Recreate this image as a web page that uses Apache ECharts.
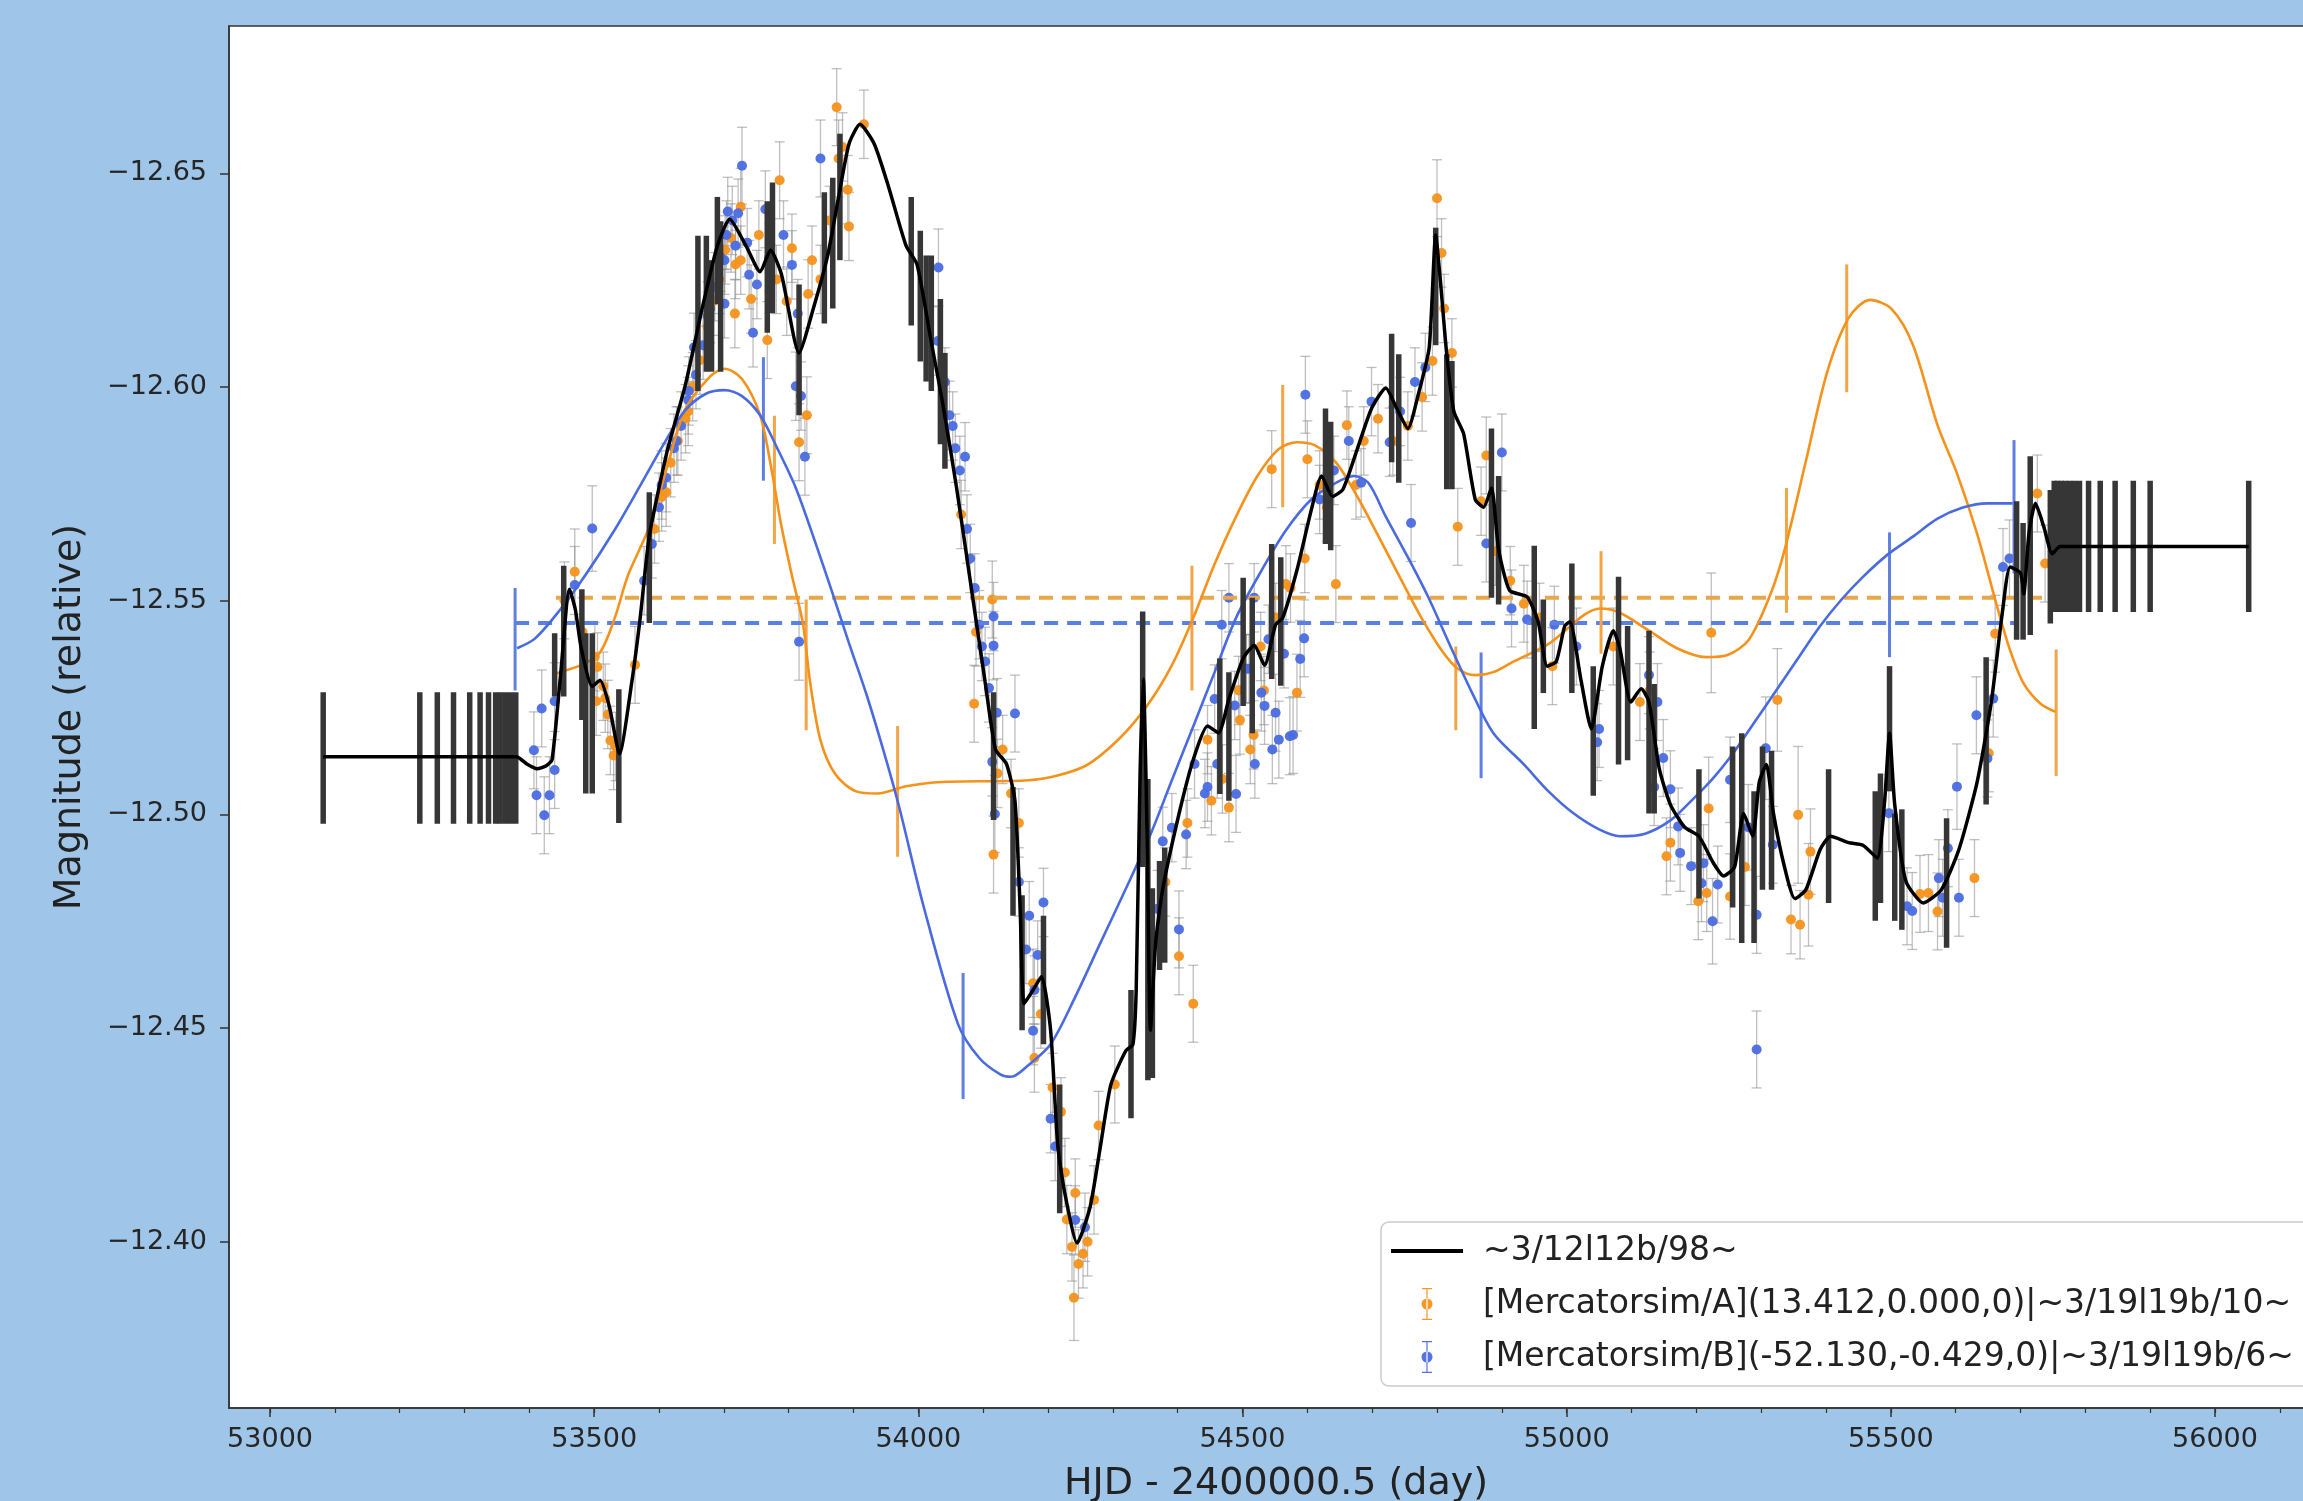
<!DOCTYPE html>
<html>
<head>
<meta charset="utf-8">
<script src="https://cdn.jsdelivr.net/npm/echarts@6/dist/echarts.min.js"></script>
<style>
  html, body { margin: 0; padding: 0; background: #9fc5e8; }
  #main { width: 2303px; height: 1501px; }
</style>
</head>
<body>
<div id="main"></div>
<script>
// tick labels
const xMajor = [53000, 53500, 54000, 54500, 55000, 55500, 56000];
const xMinor = [53000, 53100, 53200, 53300, 53400, 53500, 53600, 53700, 53800, 53900, 54000, 54100, 54200, 54300, 54400,
  54500, 54600, 54700, 54800, 54900, 55000, 55100, 55200, 55300, 55400, 55500, 55600, 55700, 55800, 55900, 56000, 56100];
const yTicks = [-12.65, -12.60, -12.55, -12.50, -12.45, -12.40];

// legend names
const nameBlack = "~3/12l12b/98~";
const nameA = "[Mercatorsim/A](13.412,0.000,0)|~3/19l19b/10~";
const nameB = "[Mercatorsim/B](-52.130,-0.429,0)|~3/19l19b/6~";

// black model curve [HJD, mag]
const blackLine = [
  [53082, -12.5135], [53380, -12.5135], [53396, -12.5118], [53412, -12.5107], [53426, -12.5114], [53435, -12.5128],
  [53448, -12.5324], [53462, -12.5527], [53471, -12.5479], [53480, -12.5389], [53497, -12.5300], [53509, -12.5314],
  [53523, -12.5255], [53539, -12.5142], [53558, -12.5310], [53571, -12.5461], [53585, -12.5651], [53613, -12.5853],
  [53640, -12.6001], [53668, -12.6194], [53690, -12.6331], [53709, -12.6393], [53734, -12.6331], [53756, -12.6270],
  [53772, -12.6321], [53789, -12.6263], [53816, -12.6080], [53838, -12.6184], [53860, -12.6307], [53877, -12.6445],
  [53893, -12.6569], [53910, -12.6615], [53932, -12.6569], [53954, -12.6469], [53981, -12.6331], [53998, -12.6287],
  [54020, -12.6105], [54037, -12.5967], [54059, -12.5764], [54081, -12.5537], [54103, -12.5310], [54119, -12.5152],
  [54136, -12.5118], [54149, -12.5032], [54157, -12.4781], [54163, -12.4557], [54177, -12.4589], [54190, -12.4621],
  [54204, -12.4495], [54215, -12.4225], [54226, -12.4113], [54245, -12.3997], [54265, -12.4082], [54281, -12.4225],
  [54297, -12.4368], [54320, -12.4447], [54331, -12.4462], [54336, -12.4589], [54342, -12.5096], [54347, -12.5317],
  [54353, -12.4939], [54358, -12.4495], [54366, -12.4700], [54377, -12.4826], [54402, -12.5001], [54424, -12.5128],
  [54446, -12.5207], [54463, -12.5191], [54479, -12.5270], [54501, -12.5365], [54518, -12.5396], [54534, -12.5349],
  [54551, -12.5444], [54562, -12.5460], [54584, -12.5572], [54606, -12.5712], [54622, -12.5792], [54639, -12.5744],
  [54655, -12.5761], [54677, -12.5855], [54699, -12.5950], [54721, -12.5998], [54738, -12.5950], [54755, -12.5903],
  [54771, -12.5982], [54788, -12.6093], [54798, -12.6356], [54805, -12.6252], [54815, -12.6077], [54826, -12.5943],
  [54841, -12.5891], [54859, -12.5737], [54872, -12.5719], [54884, -12.5764], [54895, -12.5620], [54912, -12.5524],
  [54939, -12.5509], [54956, -12.5451], [54970, -12.5347], [54984, -12.5358], [54997, -12.5441], [55005, -12.5451],
  [55022, -12.5315], [55038, -12.5200], [55055, -12.5347], [55072, -12.5430], [55082, -12.5389], [55099, -12.5263],
  [55115, -12.5294], [55127, -12.5263], [55143, -12.5106], [55160, -12.5023], [55182, -12.4970], [55204, -12.4949],
  [55226, -12.4887], [55242, -12.4856], [55259, -12.4877], [55273, -12.5002], [55287, -12.4949], [55297, -12.5075],
  [55308, -12.5117], [55319, -12.5002], [55336, -12.4877], [55352, -12.4803], [55369, -12.4824], [55391, -12.4918],
  [55407, -12.4949], [55435, -12.4934], [55457, -12.4928], [55479, -12.4898], [55490, -12.5023], [55498, -12.5190],
  [55506, -12.5023], [55523, -12.4845], [55550, -12.4793], [55578, -12.4824], [55605, -12.4918], [55633, -12.5075],
  [55655, -12.5263], [55672, -12.5472], [55684, -12.5579], [55700, -12.5565], [55705, -12.5516], [55713, -12.5657],
  [55723, -12.5728], [55736, -12.5673], [55749, -12.5610], [55761, -12.5627], [56052, -12.5627]
];

// black model error bars [HJD, low, high]
const blackBars = [
  [53082, -12.5286, -12.4978], [53231, -12.5286, -12.4978], [53258, -12.5286, -12.4978], [53283, -12.5286, -12.4978],
  [53308, -12.5286, -12.4978], [53324, -12.5286, -12.4978], [53337, -12.5286, -12.4978], [53348, -12.5286, -12.4978],
  [53355, -12.5286, -12.4978], [53363, -12.5286, -12.4978], [53371, -12.5286, -12.4978], [53379, -12.5286, -12.4978],
  [53439, -12.5424, -12.5276], [53453, -12.5582, -12.5276], [53481, -12.5527, -12.5221], [53487, -12.5424, -12.5049],
  [53497, -12.5424, -12.5049], [53538, -12.5293, -12.4980], [53585, -12.5754, -12.5448], [53660, -12.6354, -12.5991],
  [53673, -12.6354, -12.6036], [53681, -12.6297, -12.6036], [53690, -12.6445, -12.6194], [53695, -12.6388, -12.6036],
  [53767, -12.6435, -12.6127], [53775, -12.6479, -12.6173], [53816, -12.6240, -12.5934], [53855, -12.6456, -12.6149],
  [53868, -12.6490, -12.6184], [53879, -12.6593, -12.6297], [53989, -12.6445, -12.6144], [54003, -12.6366, -12.6060],
  [54012, -12.6308, -12.6013], [54020, -12.6308, -12.5991], [54034, -12.6206, -12.5866], [54041, -12.6080, -12.5809],
  [54116, -12.5286, -12.4987], [54146, -12.5064, -12.4763], [54160, -12.4811, -12.4495], [54193, -12.4763, -12.4462],
  [54218, -12.4368, -12.4067], [54328, -12.4589, -12.4289], [54346, -12.5475, -12.4877], [54354, -12.5083, -12.4378],
  [54361, -12.4827, -12.4383], [54372, -12.4891, -12.4636], [54380, -12.4922, -12.4653], [54465, -12.5365, -12.5048],
  [54479, -12.5333, -12.5032], [54501, -12.5554, -12.5254], [54515, -12.5507, -12.5190], [54545, -12.5633, -12.5317],
  [54559, -12.5602, -12.5301], [54628, -12.5950, -12.5633], [54636, -12.5919, -12.5618], [54730, -12.6125, -12.5824],
  [54741, -12.6077, -12.5776], [54798, -12.6373, -12.6098], [54815, -12.6077, -12.5761], [54823, -12.6061, -12.5761],
  [54884, -12.5903, -12.5507], [54895, -12.5792, -12.5491], [54950, -12.5629, -12.5200], [54964, -12.5503, -12.5284],
  [55008, -12.5587, -12.5284], [55041, -12.5347, -12.5044], [55080, -12.5556, -12.5117], [55094, -12.5441, -12.5127],
  [55127, -12.5430, -12.5002], [55135, -12.5305, -12.5002], [55204, -12.5106, -12.4803], [55256, -12.5159, -12.4782],
  [55270, -12.5190, -12.4699], [55289, -12.5054, -12.4699], [55302, -12.5159, -12.4824], [55316, -12.5149, -12.4824],
  [55404, -12.5106, -12.4793], [55476, -12.5054, -12.4751], [55484, -12.5096, -12.4793], [55498, -12.5347, -12.5054],
  [55506, -12.5002, -12.4751], [55517, -12.5012, -12.4730], [55586, -12.4991, -12.4688], [55647, -12.5368, -12.5023],
  [55694, -12.5733, -12.5409], [55704, -12.5682, -12.5409], [55715, -12.5838, -12.5420], [55746, -12.5759, -12.5447],
  [55752, -12.5781, -12.5474], [55757, -12.5781, -12.5474], [55763, -12.5781, -12.5474], [55769, -12.5781, -12.5474],
  [55776, -12.5781, -12.5474], [55783, -12.5781, -12.5474], [55791, -12.5781, -12.5474], [55805, -12.5781, -12.5474],
  [55823, -12.5781, -12.5474], [55846, -12.5781, -12.5474], [55874, -12.5781, -12.5474], [55900, -12.5781, -12.5474],
  [56052, -12.5781, -12.5474]
];

// orange model (A)
const orangeCurve = [
  [53441, -12.5330], [53482, -12.5351], [53509, -12.5379], [53532, -12.5461], [53552, -12.5559], [53585, -12.5673],
  [53611, -12.5805], [53640, -12.5946], [53679, -12.6025], [53701, -12.6043], [53728, -12.6019], [53756, -12.5934],
  [53772, -12.5820], [53789, -12.5673], [53805, -12.5559], [53822, -12.5446], [53833, -12.5310], [53849, -12.5174],
  [53872, -12.5094], [53904, -12.5054], [53937, -12.5049], [53981, -12.5066], [54036, -12.5076], [54170, -12.5080],
  [54254, -12.5111], [54309, -12.5176], [54353, -12.5255], [54391, -12.5349], [54424, -12.5460], [54457, -12.5586],
  [54490, -12.5697], [54523, -12.5792], [54556, -12.5855], [54584, -12.5871], [54611, -12.5864], [54644, -12.5824],
  [54677, -12.5744], [54710, -12.5650], [54743, -12.5554], [54776, -12.5460], [54809, -12.5380], [54832, -12.5341],
  [54859, -12.5326], [54887, -12.5333], [54917, -12.5357], [54972, -12.5399], [55027, -12.5467], [55052, -12.5482],
  [55082, -12.5472], [55127, -12.5430], [55170, -12.5389], [55215, -12.5368], [55248, -12.5373], [55281, -12.5409],
  [55314, -12.5514], [55336, -12.5618], [55369, -12.5827], [55402, -12.6036], [55435, -12.6162], [55468, -12.6204],
  [55501, -12.6183], [55534, -12.6099], [55572, -12.5911], [55602, -12.5798], [55633, -12.5657], [55664, -12.5486],
  [55684, -12.5384], [55705, -12.5306], [55731, -12.5259], [55754, -12.5240]
];
const orangeBars = [
  [53778, -12.5933, -12.5633], [53827, -12.5503, -12.5197], [53968, -12.5207, -12.4901], [54422, -12.5582, -12.5290],
  [54562, -12.6005, -12.5719], [54829, -12.5393, -12.5197], [55053, -12.5616, -12.5376], [55339, -12.5764, -12.5472],
  [55432, -12.6287, -12.5988], [55755, -12.5386, -12.5090]
];

// blue model (B)
const blueCurve = [
  [53381, -12.5389], [53409, -12.5412], [53448, -12.5480], [53486, -12.5559], [53530, -12.5662], [53569, -12.5764],
  [53607, -12.5866], [53640, -12.5945], [53673, -12.5985], [53701, -12.5993], [53728, -12.5979], [53756, -12.5934],
  [53783, -12.5855], [53811, -12.5764], [53838, -12.5650], [53866, -12.5525], [53893, -12.5401], [53921, -12.5276],
  [53948, -12.5140], [53971, -12.5014], [54007, -12.4791], [54061, -12.4510], [54094, -12.4430], [54127, -12.4391],
  [54143, -12.4386], [54171, -12.4415], [54204, -12.4462], [54242, -12.4573], [54281, -12.4700], [54320, -12.4826],
  [54358, -12.4953], [54391, -12.5080], [54424, -12.5206], [54457, -12.5333], [54490, -12.5460], [54529, -12.5570],
  [54567, -12.5665], [54606, -12.5737], [54644, -12.5776], [54672, -12.5792], [54694, -12.5776], [54721, -12.5697],
  [54755, -12.5602], [54787, -12.5507], [54820, -12.5396], [54854, -12.5285], [54887, -12.5190], [54934, -12.5117],
  [54972, -12.5054], [55011, -12.5002], [55050, -12.4965], [55082, -12.4949], [55121, -12.4955], [55160, -12.4986],
  [55193, -12.5033], [55226, -12.5085], [55259, -12.5148], [55292, -12.5221], [55325, -12.5294], [55358, -12.5368],
  [55391, -12.5441], [55424, -12.5503], [55457, -12.5556], [55495, -12.5608], [55534, -12.5650], [55572, -12.5692],
  [55611, -12.5718], [55649, -12.5728], [55688, -12.5728]
];
const blueBars = [
  [53378, -12.5530, -12.5290], [53761, -12.6070, -12.5781], [54069, -12.4629, -12.4334], [54868, -12.5379, -12.5085],
  [55498, -12.5660, -12.5368], [55690, -12.5876, -12.5564]
];

// mean levels
const orangeMean = [[53441, -12.5507], [55755, -12.5507]];
const blueMean = [[53378, -12.5448], [55690, -12.5448]];

// observations A [HJD, mag, err]
const obsA = [
  [53470, -12.5568, 0.010], [53454, -12.5501, 0.009], [53482, -12.5427, 0.008], [53501, -12.5369, 0.008], [53505, -12.5345, 0.008],
  [53514, -12.5300, 0.008], [53517, -12.5272, 0.008], [53521, -12.5234, 0.008], [53525, -12.5173, 0.008], [53530, -12.5138, 0.008],
  [53533, -12.5159, 0.008], [53503, -12.5265, 0.008], [53563, -12.5350, 0.009],
  [53593, -12.5668, 0.008], [53604, -12.5743, 0.008], [53618, -12.5823, 0.008], [53629, -12.5874, 0.008], [53641, -12.5926, 0.008],
  [53652, -12.6001, 0.008], [53663, -12.6063, 0.008], [53675, -12.6142, 0.008], [53684, -12.6201, 0.008], [53693, -12.6252, 0.008],
  [53702, -12.6321, 0.008], [53711, -12.6349, 0.008], [53718, -12.6287, 0.008], [53611, -12.5754, 0.008], [53645, -12.5943, 0.008],
  [53726, -12.6422, 0.009], [53726, -12.6297, 0.008], [53742, -12.6206, 0.008], [53717, -12.6172, 0.008], [53767, -12.6110, 0.009],
  [53786, -12.6484, 0.009], [53805, -12.6325, 0.008], [53836, -12.6297, 0.008], [53830, -12.6218, 0.008], [53828, -12.5934, 0.009],
  [53816, -12.5871, 0.009], [53874, -12.6655, 0.009], [53877, -12.6535, 0.009], [53891, -12.6462, 0.008], [53893, -12.6376, 0.008],
  [53916, -12.6615, 0.008], [53754, -12.6356, 0.008], [53781, -12.6252, 0.008], [53797, -12.6201, 0.008], [53849, -12.6252, 0.008],
  [53863, -12.6390, 0.008], [53883, -12.6562, 0.008],
  [54114, -12.5503, 0.009], [54086, -12.5259, 0.009], [54130, -12.5152, 0.008], [54116, -12.4906, 0.009], [54122, -12.5096, 0.008],
  [54066, -12.5702, 0.008], [54089, -12.5427, 0.008],
  [54177, -12.4605, 0.008], [54179, -12.4430, 0.008], [54220, -12.4304, 0.008], [54226, -12.4162, 0.008], [54242, -12.4114, 0.008],
  [54237, -12.3988, 0.008], [54254, -12.3972, 0.008], [54271, -12.4098, 0.008], [54278, -12.4272, 0.008], [54303, -12.4368, 0.009],
  [54240, -12.3869, 0.010], [54247, -12.3948, 0.008], [54261, -12.4000, 0.008], [54229, -12.4052, 0.008], [54143, -12.5049, 0.008],
  [54155, -12.4980, 0.008], [54189, -12.4533, 0.008], [54207, -12.4361, 0.008],
  [54402, -12.4668, 0.009], [54424, -12.4557, 0.009], [54452, -12.5032, 0.008], [54479, -12.5016, 0.008], [54446, -12.5175, 0.008],
  [54545, -12.5808, 0.009], [54567, -12.5539, 0.009], [54584, -12.5285, 0.009], [54381, -12.4842, 0.008], [54415, -12.4980, 0.008],
  [54494, -12.5290, 0.008], [54506, -12.5341, 0.008], [54528, -12.5393, 0.008], [54551, -12.5461, 0.008], [54574, -12.5530, 0.008],
  [54596, -12.5599, 0.008], [54517, -12.5186, 0.008], [54469, -12.5083, 0.008], [54496, -12.5221, 0.008], [54512, -12.5152, 0.008],
  [54533, -12.5290, 0.008],
  [54600, -12.5831, 0.009], [54644, -12.5539, 0.009], [54661, -12.5911, 0.008], [54619, -12.5771, 0.008], [54630, -12.5719, 0.008],
  [54675, -12.5771, 0.008], [54687, -12.5874, 0.008], [54709, -12.5926, 0.008], [54732, -12.5874, 0.008], [54755, -12.5909, 0.008],
  [54777, -12.5977, 0.008], [54793, -12.6061, 0.008], [54800, -12.6442, 0.009], [54807, -12.6314, 0.008], [54811, -12.6184, 0.008],
  [54823, -12.6080, 0.008], [54832, -12.5673, 0.009], [54876, -12.5840, 0.009], [54868, -12.5733, 0.008],
  [54934, -12.5493, 0.009], [54978, -12.5347, 0.009], [54890, -12.5616, 0.008], [54913, -12.5547, 0.008], [54958, -12.5461, 0.008],
  [55113, -12.5263, 0.009], [55223, -12.5425, 0.014], [55072, -12.5393, 0.009], [55128, -12.5290, 0.009],
  [55160, -12.4934, 0.009], [55154, -12.4902, 0.009], [55219, -12.5014, 0.012], [55216, -12.4816, 0.009], [55203, -12.4797, 0.009],
  [55252, -12.4808, 0.010], [55325, -12.5268, 0.012], [55357, -12.4999, 0.016], [55376, -12.4913, 0.010], [55373, -12.4812, 0.012],
  [55346, -12.4754, 0.008], [55360, -12.4742, 0.008], [55275, -12.4877, 0.009],
  [55558, -12.4816, 0.009], [55572, -12.4773, 0.009], [55545, -12.4814, 0.009], [55629, -12.4851, 0.009], [55651, -12.5143, 0.009],
  [55661, -12.5423, 0.009], [55726, -12.5751, 0.009], [55738, -12.5587, 0.009]
];

// observations B [HJD, mag, err]
const obsB = [
  [53419, -12.5248, 0.009], [53407, -12.5150, 0.009], [53439, -12.5104, 0.009], [53411, -12.5045, 0.009], [53431, -12.5045, 0.009],
  [53423, -12.4998, 0.009], [53439, -12.5265, 0.009], [53497, -12.5669, 0.010], [53470, -12.5537, 0.009],
  [53577, -12.5547, 0.008], [53589, -12.5633, 0.008], [53600, -12.5719, 0.008], [53611, -12.5788, 0.008], [53623, -12.5857, 0.008],
  [53634, -12.5909, 0.008], [53645, -12.5970, 0.008], [53657, -12.6029, 0.008], [53668, -12.6098, 0.008], [53679, -12.6184, 0.008],
  [53686, -12.6235, 0.008], [53695, -12.6304, 0.008], [53704, -12.6356, 0.008], [53713, -12.6390, 0.008], [53722, -12.6407, 0.008],
  [53646, -12.5991, 0.008], [53654, -12.6093, 0.008], [53604, -12.5771, 0.008], [53627, -12.5874, 0.008], [53675, -12.6166, 0.008],
  [53728, -12.6518, 0.009], [53706, -12.6411, 0.008], [53718, -12.6331, 0.008], [53701, -12.6297, 0.008], [53739, -12.6263, 0.008],
  [53751, -12.6240, 0.008], [53745, -12.6127, 0.008], [53701, -12.6195, 0.008], [53764, -12.6416, 0.009], [53805, -12.6286, 0.008],
  [53814, -12.6172, 0.008], [53811, -12.6002, 0.008], [53819, -12.5979, 0.008], [53825, -12.5837, 0.009], [53849, -12.6535, 0.009],
  [53736, -12.6338, 0.008], [53770, -12.6304, 0.008], [53792, -12.6356, 0.008], [53816, -12.5404, 0.009],
  [54031, -12.6280, 0.009], [54048, -12.5934, 0.008], [54072, -12.5837, 0.008], [54116, -12.5463, 0.008], [54116, -12.5395, 0.008],
  [54149, -12.5236, 0.009], [54114, -12.5123, 0.008], [54030, -12.6108, 0.008], [54041, -12.6012, 0.008], [54053, -12.5909, 0.008],
  [54064, -12.5805, 0.008], [54080, -12.5599, 0.008], [54087, -12.5530, 0.008], [54094, -12.5444, 0.008], [54103, -12.5358, 0.008],
  [54109, -12.5296, 0.008], [54121, -12.5238, 0.008], [54057, -12.5857, 0.008], [54075, -12.5668, 0.008], [54098, -12.5393, 0.008],
  [54118, -12.5001, 0.009], [54171, -12.4763, 0.008], [54166, -12.4684, 0.008], [54179, -12.4589, 0.008], [54193, -12.4794, 0.008],
  [54177, -12.4494, 0.008], [54204, -12.4288, 0.008], [54242, -12.4051, 0.008], [54155, -12.4842, 0.008], [54184, -12.4671, 0.008],
  [54211, -12.4223, 0.008], [54257, -12.4034, 0.008],
  [54369, -12.4779, 0.009], [54402, -12.4731, 0.009], [54377, -12.4937, 0.008], [54391, -12.4969, 0.008], [54413, -12.4953, 0.008],
  [54446, -12.5064, 0.008], [54457, -12.5270, 0.008], [54490, -12.5048, 0.009], [54529, -12.5285, 0.009], [54534, -12.5254, 0.009],
  [54551, -12.5238, 0.009], [54556, -12.5175, 0.009], [54573, -12.5183, 0.009], [54589, -12.5364, 0.009], [54595, -12.5412, 0.009],
  [54468, -12.5444, 0.008], [54479, -12.5507, 0.008], [54518, -12.5507, 0.008], [54426, -12.5118, 0.008], [54506, -12.5341, 0.008],
  [54442, -12.5049, 0.008], [54461, -12.5118, 0.008], [54488, -12.5255, 0.008], [54510, -12.5341, 0.008], [54540, -12.5410, 0.008],
  [54564, -12.5376, 0.008], [54578, -12.5186, 0.009], [54546, -12.5152, 0.008], [54519, -12.5118, 0.008],
  [54597, -12.5982, 0.009], [54683, -12.5776, 0.008], [54699, -12.5966, 0.008], [54727, -12.5871, 0.008], [54760, -12.5682, 0.009],
  [54619, -12.5737, 0.008], [54641, -12.5805, 0.008], [54664, -12.5874, 0.008], [54743, -12.5943, 0.008], [54766, -12.6012, 0.008],
  [54782, -12.6046, 0.008], [54900, -12.5847, 0.009],
  [54876, -12.5634, 0.009], [54915, -12.5482, 0.009], [54939, -12.5456, 0.009], [55050, -12.5200, 0.009], [55047, -12.5169, 0.009],
  [55127, -12.5326, 0.009], [55140, -12.5263, 0.009], [55149, -12.5132, 0.009], [55135, -12.5064, 0.009], [55160, -12.5059, 0.009],
  [54981, -12.5444, 0.009], [55015, -12.5393, 0.009],
  [55175, -12.4910, 0.009], [55192, -12.4879, 0.009], [55211, -12.4886, 0.009], [55233, -12.4836, 0.009], [55225, -12.4750, 0.010],
  [55252, -12.5081, 0.010], [55293, -12.4765, 0.009], [55307, -12.5155, 0.012], [55318, -12.4929, 0.009], [55293, -12.4450, 0.009],
  [55172, -12.4972, 0.009], [55208, -12.4839, 0.009], [55280, -12.4970, 0.010],
  [55497, -12.5003, 0.009], [55525, -12.4785, 0.009], [55533, -12.4774, 0.009], [55574, -12.4851, 0.009], [55580, -12.4805, 0.009],
  [55588, -12.4921, 0.009], [55605, -12.4805, 0.009], [55602, -12.5065, 0.010], [55632, -12.5232, 0.009], [55658, -12.5271, 0.009],
  [55673, -12.5579, 0.009], [55683, -12.5599, 0.009], [55649, -12.5131, 0.009]
];

const FONT = "DejaVu Sans";
const ORANGE = "#f5921b";
const BLUE = "#4a6be0";

// vertical bar from [x, low, high]
function barRenderer(color, width) {
  return function (params, api) {
    const a = api.coord([api.value(0), api.value(1)]);
    const b = api.coord([api.value(0), api.value(2)]);
    return {
      type: "line",
      shape: { x1: a[0], y1: a[1], x2: b[0], y2: b[1] },
      style: { stroke: color, lineWidth: width }
    };
  };
}

// capped error bar from [x, y, err]
function capRenderer(color) {
  return function (params, api) {
    const x = api.value(0), y = api.value(1), e = api.value(2);
    const a = api.coord([x, y - e]);
    const b = api.coord([x, y + e]);
    const st = { stroke: color, lineWidth: 1.3, opacity: 0.55 };
    return {
      type: "group",
      children: [
        { type: "line", shape: { x1: a[0], y1: a[1], x2: b[0], y2: b[1] }, style: st },
        { type: "line", shape: { x1: a[0] - 5, y1: a[1], x2: a[0] + 5, y2: a[1] }, style: st },
        { type: "line", shape: { x1: b[0] - 5, y1: b[1], x2: b[0] + 5, y2: b[1] }, style: st }
      ]
    };
  };
}

const lineIcon = "path://M0,0L0.01,0L0,0.01ZM72,34L71.99,34L72,33.99ZM0,15L72,15L72,19L0,19Z";
const dotIcon = "path://M0,0L0.01,0L0,0.01ZM72,34L71.99,34L72,33.99ZM35.4,2L36.6,2L36.6,32L35.4,32Z" +
  "M31,1L41,1L41,2.2L31,2.2ZM31,31.8L41,31.8L41,33L31,33ZM30.5,17A5.5,5.5,0,1,0,41.5,17A5.5,5.5,0,1,0,30.5,17Z";

const chart = echarts.init(document.getElementById("main"));

chart.setOption({
  backgroundColor: "#9fc5e8",
  animation: false,
  grid: {
    left: 229, top: 26, right: -20, bottom: 93,
    outerBoundsMode: "none", containLabel: false,
    show: true, backgroundColor: "#ffffff", borderColor: "#333333", borderWidth: 1.5
  },
  legend: {
    orient: "vertical",
    left: 1381, top: 1222,
    backgroundColor: "rgba(255,255,255,0.85)",
    borderColor: "#cccccc", borderWidth: 1.5, borderRadius: 8,
    padding: [12, 40, 12, 10],
    itemWidth: 72, itemHeight: 34, itemGap: 19,
    selectedMode: false,
    textStyle: { fontFamily: FONT, fontSize: 33, color: "#222222", padding: [0, 0, 0, 15] },
    data: [
      { name: nameBlack, icon: lineIcon },
      { name: nameA, icon: dotIcon },
      { name: nameB, icon: dotIcon }
    ]
  },
  xAxis: [
    {
      type: "value", min: 52936.7, max: 56166.6, position: "bottom",
      name: "HJD - 2400000.5 (day)", nameLocation: "middle", nameGap: 57,
      nameTextStyle: { fontFamily: FONT, fontSize: 38, color: "#222222" },
      axisLine: { show: true, onZero: false, lineStyle: { color: "#333333", width: 1.5 } },
      axisTick: { show: true, customValues: xMajor, length: 9, lineStyle: { color: "#333333", width: 1.5 } },
      axisLabel: { customValues: xMajor, margin: 18, fontFamily: FONT, fontSize: 27, color: "#262626",
        formatter: v => String(v) },
      splitLine: { show: false }
    },
    {
      type: "value", min: 52936.7, max: 56166.6, position: "bottom",
      axisLine: { show: false },
      axisTick: { show: true, customValues: xMinor, length: 5, lineStyle: { color: "#333333", width: 1.2 } },
      axisLabel: { show: false },
      splitLine: { show: false }
    }
  ],
  yAxis: {
    type: "value", inverse: true, min: -12.6845, max: -12.3611,
    name: "Magnitude (relative)", nameLocation: "middle", nameGap: 140, nameRotate: 90,
    nameTextStyle: { fontFamily: FONT, fontSize: 38, color: "#222222" },
    axisLine: { show: true, onZero: false, lineStyle: { color: "#333333", width: 1.5 } },
    axisTick: { show: true, customValues: yTicks, length: 9, lineStyle: { color: "#333333", width: 1.5 } },
    axisLabel: { customValues: yTicks, margin: 22, fontFamily: FONT, fontSize: 27, color: "#262626",
      formatter: v => "\u2212" + Math.abs(v).toFixed(2) },
    splitLine: { show: false }
  },
  series: [
    { type: "custom", name: "errA", data: obsA, encode: { x: 0, y: 1 }, renderItem: capRenderer("#8a8a8a"), z: 1, silent: true },
    { type: "custom", name: "errB", data: obsB, encode: { x: 0, y: 1 }, renderItem: capRenderer("#8a8a8a"), z: 1, silent: true },
    { type: "scatter", name: nameA, data: obsA, symbolSize: 10, itemStyle: { color: ORANGE, opacity: 0.95 }, z: 2 },
    { type: "scatter", name: nameB, data: obsB, symbolSize: 10, itemStyle: { color: BLUE, opacity: 0.95 }, z: 2 },
    { type: "line", name: "meanA", data: orangeMean, showSymbol: false, z: 3,
      lineStyle: { color: "#eaa64b", width: 4, type: [14, 9] } },
    { type: "line", name: "meanB", data: blueMean, showSymbol: false, z: 3,
      lineStyle: { color: "#5a80e6", width: 4, type: [14, 9] } },
    { type: "line", name: "modelA", data: orangeCurve, showSymbol: false, smooth: 0.3, z: 4,
      lineStyle: { color: ORANGE, width: 2.6 } },
    { type: "custom", name: "modelAbars", data: orangeBars, encode: { x: 0, y: [1, 2] },
      renderItem: barRenderer("#f3a445", 3), z: 4, silent: true },
    { type: "line", name: "modelB", data: blueCurve, showSymbol: false, smooth: 0.3, z: 4,
      lineStyle: { color: BLUE, width: 2.6 } },
    { type: "custom", name: "modelBbars", data: blueBars, encode: { x: 0, y: [1, 2] },
      renderItem: barRenderer("#5f80e0", 3), z: 4, silent: true },
    { type: "custom", name: "blackBars", data: blackBars, encode: { x: 0, y: [1, 2] },
      renderItem: barRenderer("#363636", 5.5), z: 5, silent: true },
    { type: "line", name: nameBlack, data: blackLine, showSymbol: false, smooth: 0.2, z: 6,
      itemStyle: { color: "#000000" }, lineStyle: { color: "#000000", width: 3.5 } }
  ]
});
</script>
</body>
</html>
